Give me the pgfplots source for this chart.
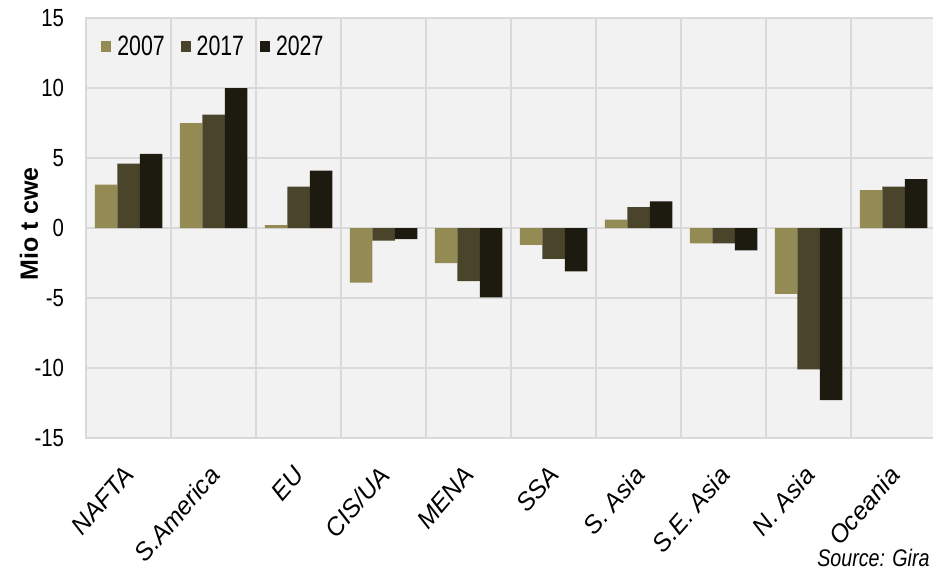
\documentclass[border=0pt]{standalone}
\usepackage{fontspec}
\setmainfont{Liberation Sans}
\newfontfamily\narrowfont{Liberation Sans}[FakeStretch=0.82]
\newfontfamily\legendfont{Liberation Sans}[FakeStretch=0.76]
\usepackage{pgfplots}
\usepackage{pgfplotstable}
\pgfplotsset{compat=1.18}

\definecolor{c07}{HTML}{948A54}
\definecolor{c17}{HTML}{4A452A}
\definecolor{c27}{HTML}{1D1B10}
\definecolor{bgc}{HTML}{F2F2F2}
\definecolor{gridc}{HTML}{D9D9D9}

% trade balance by region, Mio t cwe
\pgfplotstableread{
idx v07 v17 v27
0 3.1 4.6 5.3
1 7.5 8.1 10.0
2 0.2 2.95 4.1
3 -3.9 -0.9 -0.8
4 -2.5 -3.8 -4.95
5 -1.2 -2.2 -3.1
6 0.6 1.5 1.9
7 -1.1 -1.1 -1.6
8 -4.7 -10.1 -12.3
9 2.7 2.95 3.5
}\regiondata

\begin{document}
\begin{tikzpicture}
\begin{axis}[
    at={(43pt,-9pt)}, anchor=north west,
    width=425pt, height=210pt, scale only axis,
    xmin=-0.5, xmax=9.5, ymin=-15, ymax=15,
    ybar=0pt, bar width=11.25pt,
    axis background/.style={fill=bgc},
    axis line style={draw=gridc, line width=0.75pt},
    xtick={0,...,9},
    minor x tick num=1,
    xticklabels={NAFTA, S.America, EU, CIS/UA, MENA, SSA, S. Asia, S.E. Asia, N. Asia, Oceania},
    ytick={-15,-10,...,15},
    yticklabels={-15,-10,-5,0,5,10,15},
    major tick length=0pt, minor tick length=0pt,
    xmajorgrids=false, xminorgrids=true, ymajorgrids=true,
    major grid style={draw=gridc, line width=0.75pt},
    minor grid style={draw=gridc, line width=0.75pt},
    yticklabel style={font=\narrowfont\fontsize{12.4}{14}\selectfont, xshift=-7.5pt},
    xticklabel style={font=\itshape\fontsize{12.5}{15}\selectfont, inner sep=0pt, xshift=-3pt, yshift=-13pt, rotate=49, anchor=north east},
    ylabel={Mio t cwe},
    ylabel style={font=\bfseries\fontsize{12.5}{14}\selectfont, at={(rel axis cs:-0.067,0.51)}, anchor=center},
    legend columns=3,
    legend image code/.code={\fill[#1] (0pt,-2.75pt) rectangle (5pt,2.75pt);},
    legend style={draw=none, fill=none, inner sep=0pt,
        at={(rel axis cs:0.0176,0.931)}, anchor=west,
        font=\legendfont\fontsize{14}{16}\selectfont,
        nodes={inner sep=0pt},
        /tikz/every odd column/.append style={column sep=3pt},
        /tikz/every even column/.append style={column sep=8pt}},
]
\addplot[fill=c07, draw=none] table[x=idx, y=v07] {\regiondata};
\addplot[fill=c17, draw=none] table[x=idx, y=v17] {\regiondata};
\addplot[fill=c27, draw=none] table[x=idx, y=v27] {\regiondata};
\legend{2007, 2017, 2027}
\end{axis}
\node[anchor=base east, inner sep=0pt, font=\narrowfont\itshape\fontsize{12}{14}\selectfont] at (465pt,-283pt) {Source: Gira};
\pgfresetboundingbox
\useasboundingbox (0pt,0pt) rectangle (466.5pt,-286.5pt);
\end{tikzpicture}
\end{document}
